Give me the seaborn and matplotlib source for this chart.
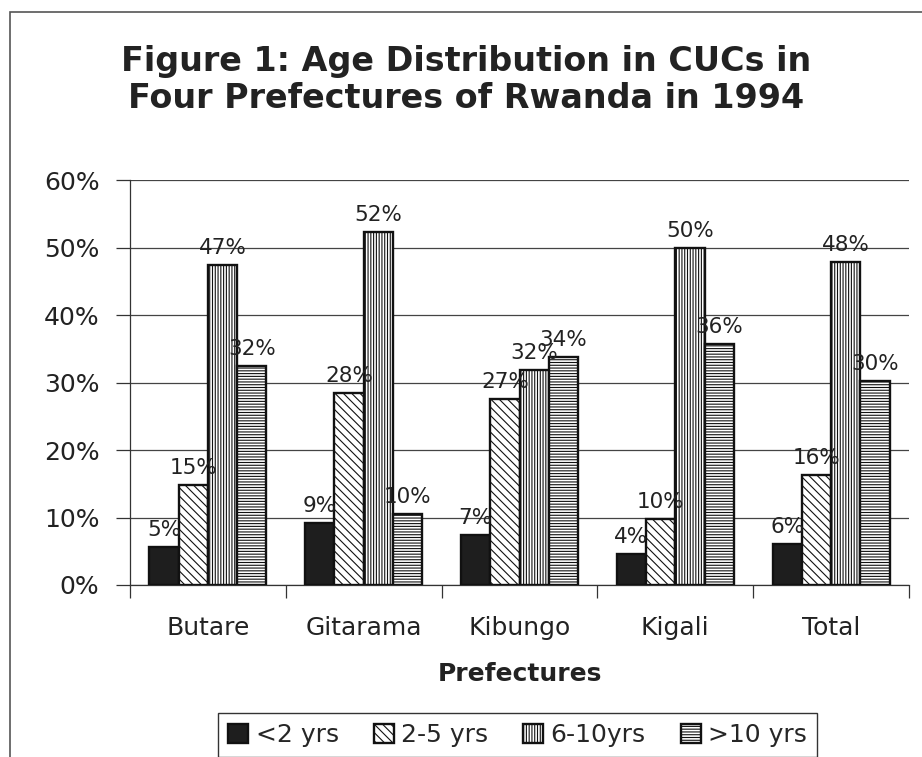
import pandas as pd
import matplotlib.pyplot as plt
import seaborn as sns
from matplotlib.patches import Rectangle
from matplotlib.ticker import FuncFormatter, FixedLocator

# Data
prefectures = ['Butare', 'Gitarama', 'Kibungo', 'Kigali', 'Total']
age_groups = ['<2 yrs', '2-5 yrs', '6-10yrs', '>10 yrs']
lt2 = [5.6, 9.2, 7.4, 4.6, 6.1]
y2_5 = [14.8, 28.4, 27.5, 9.8, 16.3]
y6_10 = [47.4, 52.3, 31.8, 50.0, 47.8]
gt10 = [32.4, 10.5, 33.8, 35.7, 30.2]
value_labels = [
    ['5%', '9%', '7%', '4%', '6%'],
    ['15%', '28%', '27%', '10%', '16%'],
    ['47%', '52%', '32%', '50%', '48%'],
    ['32%', '10%', '34%', '36%', '30%'],
]

series = [lt2, y2_5, y6_10, gt10]
rows = []
for age, vals in zip(age_groups, series):
    for p, v in zip(prefectures, vals):
        rows.append({'Prefecture': p, 'Age': age, 'Percent': v})
df = pd.DataFrame(rows)

sns.set_style('white')
plt.rcParams['font.family'] = ['DejaVu Sans']
plt.rcParams['hatch.linewidth'] = 0.8

fig = plt.figure(figsize=(9.22, 7.57), dpi=100)
ax = fig.add_axes([130 / 922, 1 - 585 / 757, (909 - 130) / 922, (585 - 180) / 757])

face = {'<2 yrs': '#1e1e1e', '2-5 yrs': 'white', '6-10yrs': 'white', '>10 yrs': 'white'}
sns.barplot(data=df, x='Prefecture', y='Percent', hue='Age', hue_order=age_groups,
            order=prefectures, palette=face, width=0.75, gap=0,
            edgecolor='#111111', linewidth=1.7, legend=False, ax=ax, zorder=3)

hatches = ['', '\\\\\\\\', '||||||', '------']
for cont, h, labs in zip(ax.containers, hatches, value_labels):
    for bar in cont.patches:
        bar.set_hatch(h)
    ax.bar_label(cont, labels=labs, padding=5, fontsize=15.5, color='#222222')

ax.set_ylim(0, 60)
ax.set_xlim(-0.5, 4.5)
ax.set_yticks(range(0, 61, 10))
ax.yaxis.set_major_formatter(FuncFormatter(lambda v, p: f'{int(v)}%'))
ax.grid(axis='y', color='#444444', linewidth=0.9, zorder=0)
ax.set_axisbelow(True)

ax.xaxis.set_minor_locator(FixedLocator([i - 0.5 for i in range(6)]))
ax.tick_params(axis='x', which='major', length=0, pad=22, labelsize=18, labelcolor='#222222')
ax.tick_params(axis='x', which='minor', bottom=True, length=9, width=0.9, color='#333333')
ax.tick_params(axis='y', left=True, length=10, width=0.9, color='#333333', pad=12,
               labelsize=18, labelcolor='#222222')

for s in ['top', 'right']:
    ax.spines[s].set_visible(False)
for s in ['left', 'bottom']:
    ax.spines[s].set_color('#333333')
    ax.spines[s].set_linewidth(0.9)

ax.set_ylabel('')
ax.set_xlabel('Prefectures', fontsize=18, fontweight='bold', color='#222222', labelpad=16)

fig.text(0.506, 1 - 62 / 757, 'Figure 1: Age Distribution in CUCs in',
         ha='center', va='center', fontsize=24, fontweight='bold', color='#222222')
fig.text(0.506, 1 - 99 / 757, 'Four Prefectures of Rwanda in 1994',
         ha='center', va='center', fontsize=24, fontweight='bold', color='#222222')

# outer frame of the chart object (cropped at right and bottom)
fig.add_artist(Rectangle((10 / 922, -0.1), 1.5, 1.1 - 12 / 757, transform=fig.transFigure,
                         fill=False, edgecolor='#555555', linewidth=1.2))

leg = fig.legend(ax.containers, age_groups, loc='upper left',
                 bbox_to_anchor=(218 / 922, 1 - 713 / 757), ncol=4, fontsize=18,
                 frameon=True, fancybox=False, edgecolor='#333333', framealpha=1,
                 handlelength=0.8, handleheight=0.8, handletextpad=0.3,
                 columnspacing=1.4, borderpad=0.4, borderaxespad=0)
leg.get_frame().set_linewidth(1.0)

fig.savefig('out.png', dpi=100)
